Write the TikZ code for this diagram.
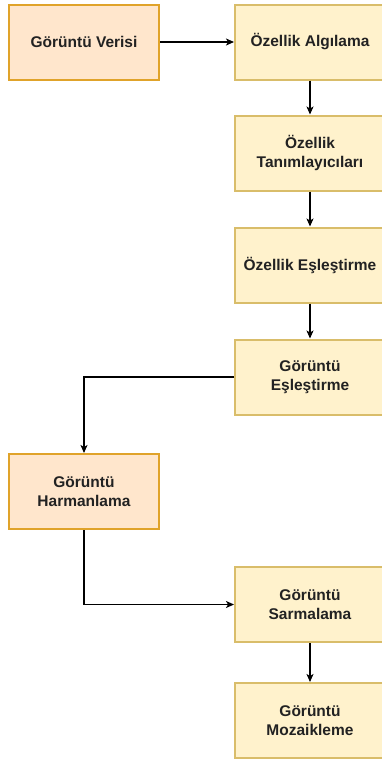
\documentclass[tikz,border=0pt]{standalone}
\usepackage{fontspec}
\setmainfont{Liberation Sans}
\usetikzlibrary{arrows.meta}
\definecolor{orfill}{HTML}{FFE6CC}
\definecolor{ordraw}{HTML}{E0A32A}
\definecolor{yefill}{HTML}{FFF2CC}
\definecolor{yedraw}{HTML}{D9BD6A}
\definecolor{txt}{HTML}{222222}
\begin{document}
\begin{tikzpicture}[x=1pt,y=-1pt]
\tikzstyle{every node}+=[inner sep=0pt]
\tikzstyle{box}=[rectangle, minimum width=150pt, minimum height=75pt, line width=2pt, align=center, text=txt, font=\fontsize{15.5}{19}\selectfont\bfseries]
\tikzstyle{orbox}=[box, draw=ordraw, fill=orfill]
\tikzstyle{yebox}=[box, draw=yedraw, fill=yefill]
\tikzstyle{arr}=[draw=black, line width=1.2pt, -{Stealth[length=8pt,width=7pt,inset=2pt]}]
\useasboundingbox (0,0) rectangle (382,761);
\draw (84,42) node[orbox] (verisi) {Görüntü Verisi};
\draw (310,42) node[yebox] (algilama) {Özellik Algılama};
\draw (310,153) node[yebox] (tanim) {Özellik\\Tanımlayıcıları};
\draw (310,265) node[yebox] (ozesl) {Özellik Eşleştirme};
\draw (310,377) node[yebox] (goresl) {Görüntü\\Eşleştirme};
\draw (84,491.5) node[orbox] (harman) {Görüntü\\Harmanlama};
\draw (310,604.5) node[yebox] (sarma) {Görüntü\\Sarmalama};
\draw (310,720.5) node[yebox] (mozaik) {Görüntü\\Mozaikleme};
\draw [arr] (verisi) -- (algilama);
\draw [arr] (algilama) -- (tanim);
\draw [arr] (tanim) -- (ozesl);
\draw [arr] (ozesl) -- (goresl);
\draw [arr] (goresl.west) -| (harman.north);
\draw [arr] (harman.south) |- (sarma.west);
\draw [arr] (sarma) -- (mozaik);
\end{tikzpicture}
\end{document}
